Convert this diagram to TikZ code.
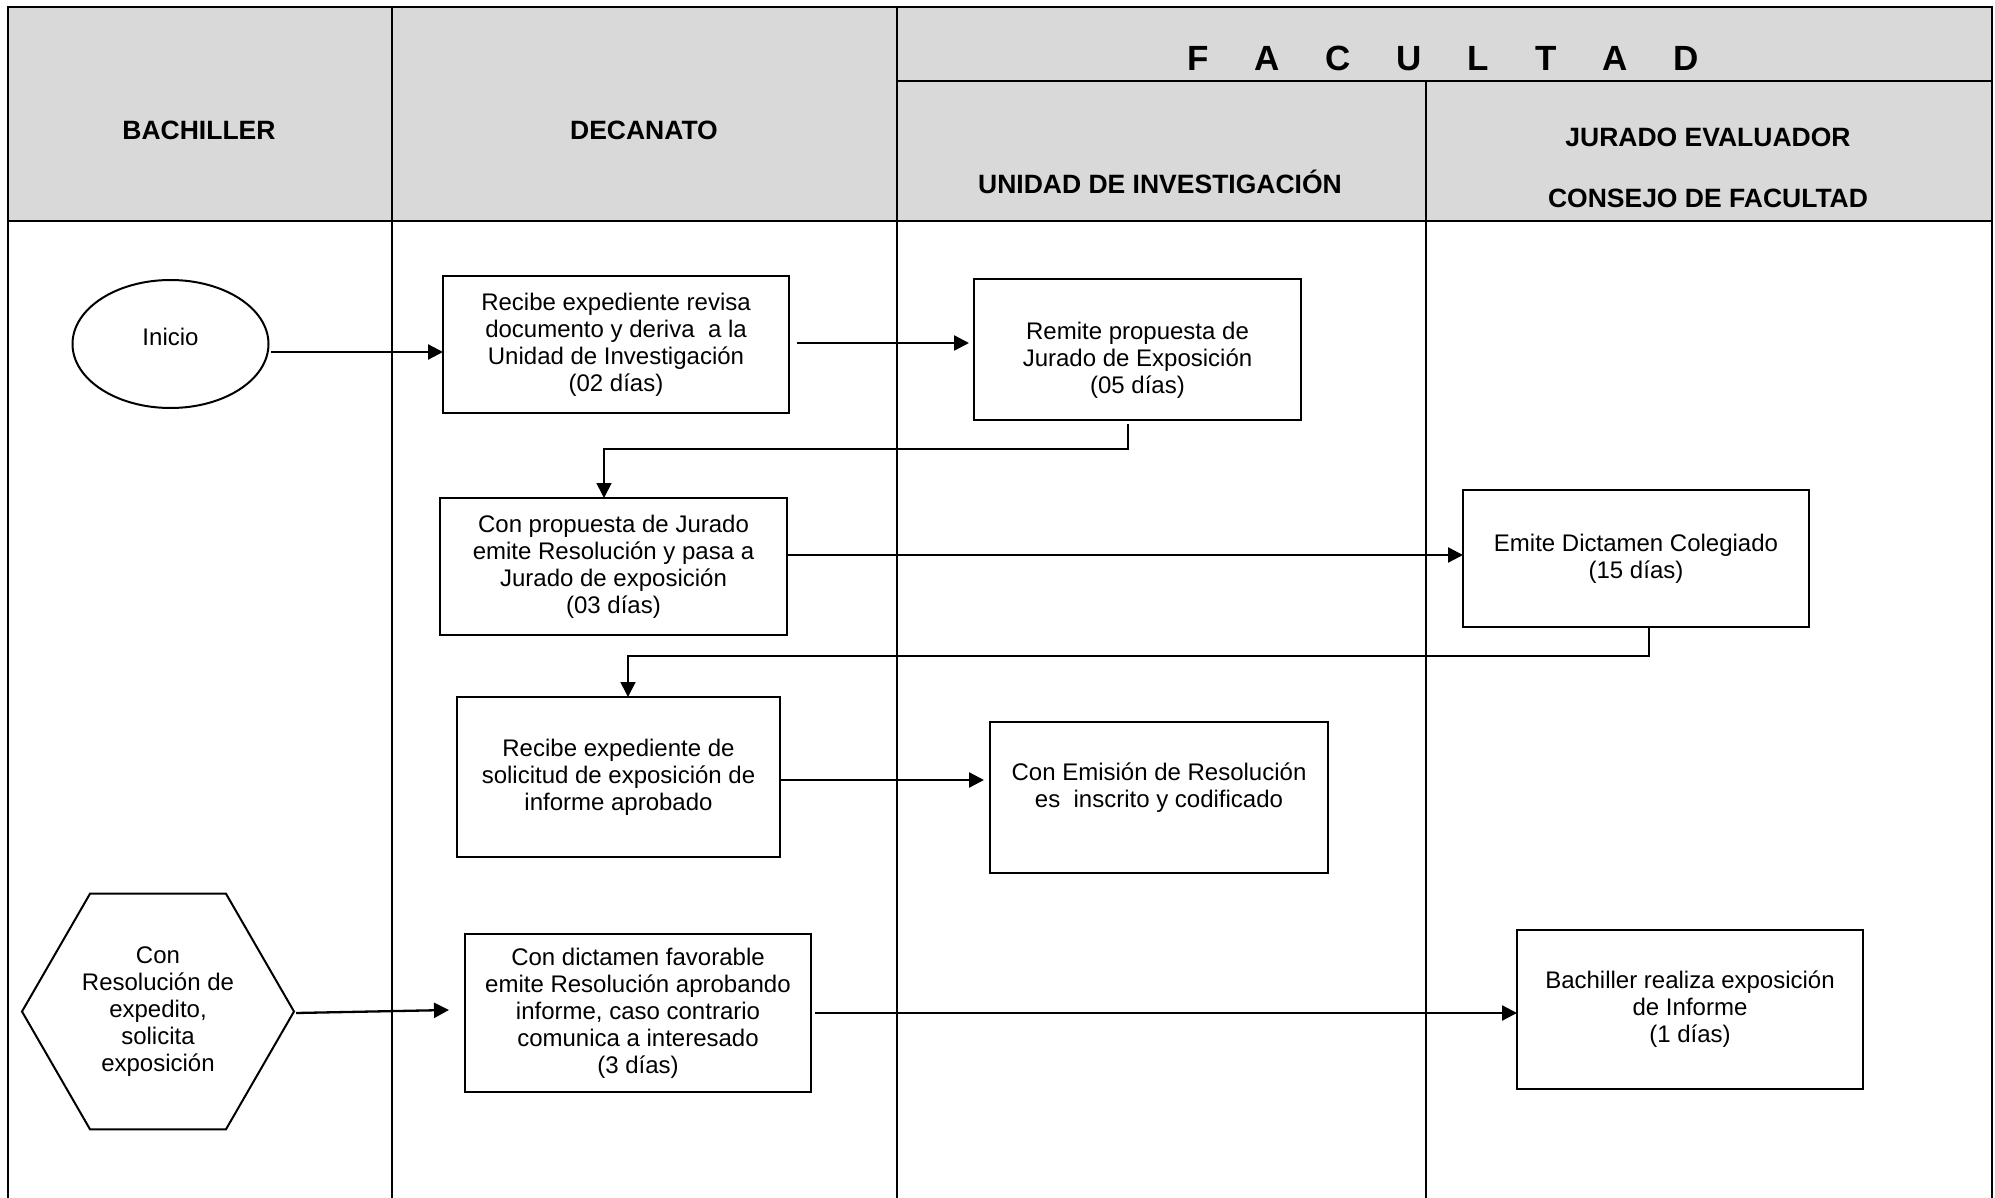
\documentclass[tikz,border=0pt]{standalone}
\usepackage{fontspec}
\setmainfont{Liberation Sans}
\usetikzlibrary{arrows.meta,calc,shapes.geometric}
\definecolor{hdrgray}{HTML}{D9D9D9}
\tikzset{
  box/.style={draw, line width=2pt, rectangle, inner sep=0pt, outer sep=0pt, align=center, font=\fontsize{24}{27}\selectfont},
  hdrtext/.style={font=\fontsize{26.5}{30}\selectfont\bfseries, inner sep=0pt},
  arr/.style={line width=2.3pt, -{Triangle[length=15pt,width=15pt]}},
  elb/.style={line width=1.7pt, -{Triangle[length=15pt,width=15pt]}},
  lane/.style={line width=2pt},
}
\begin{document}
\begin{tikzpicture}[x=1pt,y=-1pt]
\useasboundingbox (0,0) rectangle (1995,1198);
% header background and lane lines
\fill[hdrgray] (8,7) rectangle (1992,221);
\draw[lane] (8,1198) -- (8,7) -- (1992,7) -- (1992,1198);
\draw[lane] (392,7) -- (392,1198);
\draw[lane] (897,7) -- (897,1198);
\draw[lane] (1426,81) -- (1426,1198);
\draw[lane] (897,81) -- (1992,81);
\draw[line width=2.8pt] (8,221) -- (1992,221);
% header texts
\node[hdrtext] (hbach) at (199,130) {BACHILLER};
\node[hdrtext] (hdec) at (644,130) {DECANATO};
\node[hdrtext] (hunid) at (1160,182) {UNIDAD DE INVESTIGACIÓN};
\node[hdrtext] (hjur) at (1708,137) {JURADO EVALUADOR};
\node[hdrtext] (hcons) at (1708,198) {CONSEJO DE FACULTAD};
\node[inner sep=0pt, font=\fontsize{35}{40}\selectfont\bfseries] (hfac) at (1443,58)
  {F\hspace{45.8pt}A\hspace{45.8pt}C\hspace{45.8pt}U\hspace{45.8pt}L\hspace{45.8pt}T\hspace{45.8pt}A\hspace{45.8pt}D};
% shapes
\node[draw, ellipse, line width=2pt, minimum width=196pt, minimum height=128pt, inner sep=0pt, outer sep=0pt,
      font=\fontsize{24}{27}\selectfont] (ini) at (170.5,344) {Inicio\rule[-14pt]{0pt}{14pt}};
\node[box, minimum width=346pt, minimum height=137pt] (b1) at (616,344.5)
  {Recibe expediente revisa\\documento y deriva~ a la\\Unidad de Investigación\\(02 días)};
\node[box, minimum width=327pt, minimum height=141pt] (b2) at (1137.5,349.5)
  {\rule{0pt}{38.5pt}Remite propuesta de\\Jurado de Exposición\\(05 días)};
\node[box, minimum width=347pt, minimum height=137pt] (b3) at (613.5,566.5)
  {Con propuesta de Jurado\\emite Resolución y pasa a\\Jurado de exposición\\(03 días)};
\node[box, minimum width=346pt, minimum height=137pt] (emite) at (1636,558.5)
  {Emite Dictamen Colegiado\\(15 días)};
\node[box, minimum width=323pt, minimum height=160pt] (b4) at (618.5,777)
  {Recibe expediente de\\solicitud de exposición de\\informe aprobado};
\node[box, minimum width=338pt, minimum height=151pt] (b5) at (1159,797.5)
  {Con Emisión de Resolución\\es~ inscrito y codificado\rule[-24pt]{0pt}{24pt}};
\node[draw, regular polygon, regular polygon sides=6, minimum size=272pt, inner sep=0pt, outer sep=0pt,
      line width=2pt, align=center, font=\fontsize{24}{27}\selectfont] (hex) at (158,1011.5)
  {Con\\Resolución de\\expedito,\\solicita\\exposición};
\node[box, minimum width=346pt, minimum height=158pt] (b6) at (638,1013)
  {Con dictamen favorable\\emite Resolución aprobando\\informe, caso contrario\\comunica a interesado\\(3 días)};
\node[box, minimum width=346pt, minimum height=159pt] (b7) at (1690,1009.5)
  {Bachiller realiza exposición\\de Informe\\(1 días)};
% connectors
\draw[arr] ($(ini.east)+(2,8)$) -- ($(b1.west)+(0,7.5)$);
\draw[arr] ($(b1.east)+(8,-1.5)$) -- ($(b1.east -| b2.west)+(-5,-1.5)$);
\draw[elb] ($(b2.south)+(-9.5,4)$) -- ++(0,25) -| ($(b3.north)+(-9.5,0)$);
\draw[arr] ($(b3.east)+(0,-11.5)$) -- ($(b3.east -| emite.west)+(0,-11.5)$);
\draw[elb] ($(emite.south)+(13,0)$) -- ++(0,29) -| ($(b4.north)+(9.5,0)$);
\draw[arr] ($(b4.east)+(1,3)$) -- ($(b4.east -| b5.west)+(-6,3)$);
\draw[arr] ($(hex.east)+(2,1.5)$) -- ($(b6.west)+(-16,-3)$);
\draw[arr] ($(b6.east)+(4,0)$) -- ($(b6.east -| b7.west)$);
\end{tikzpicture}
\end{document}
